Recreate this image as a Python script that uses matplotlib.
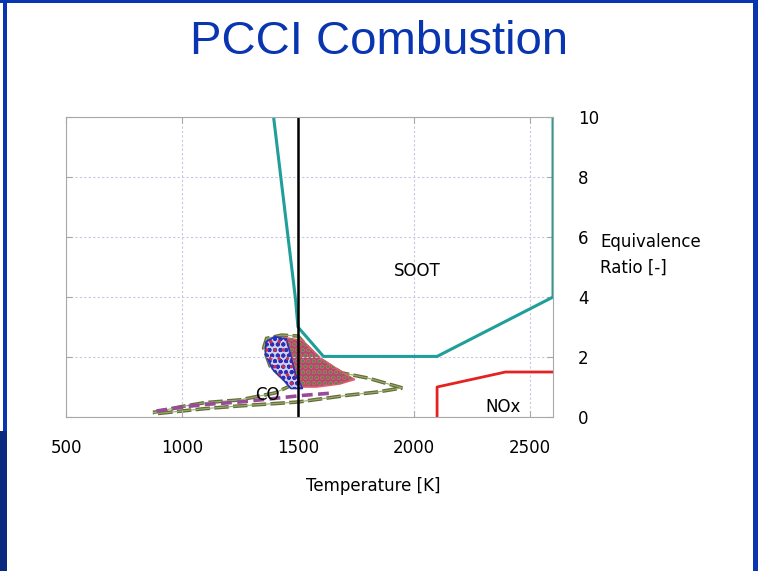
import matplotlib.pyplot as plt
from matplotlib.patches import Polygon, Rectangle

plt.rcParams['font.family'] = ['DejaVu Sans']
plt.rcParams['hatch.linewidth'] = 1.3

# temperature [K] / equivalence ratio [-]
soot_T = [1395, 1490, 1500, 1610, 2100, 2600, 2600]
soot_phi = [10, 3.9, 3.0, 2.02, 2.02, 4.0, 10]

nox_T = [2100, 2100, 2395, 2600]
nox_phi = [0, 1.0, 1.5, 1.5]

line_T = [1500, 1500]
line_phi = [0, 10]

# operating region (outline)
outer_T = [875, 1000, 1100, 1250, 1400, 1470, 1420, 1380, 1352, 1365, 1430, 1500,
           1580, 1690, 1800, 1950, 1840, 1720, 1500, 1250, 1100, 900]
outer_phi = [0.15, 0.35, 0.48, 0.57, 0.8, 1.05, 1.4, 1.7, 2.3, 2.62, 2.73, 2.7,
             2.0, 1.47, 1.3, 0.97, 0.83, 0.73, 0.5, 0.37, 0.28, 0.12]

red_T = [1440, 1520, 1600, 1700, 1745, 1680, 1580, 1510, 1470, 1440]
red_phi = [2.65, 2.55, 1.95, 1.45, 1.25, 1.1, 1.0, 1.0, 1.6, 2.3]

blue_T = [1362, 1400, 1450, 1470, 1490, 1520, 1470, 1430, 1390, 1360]
blue_phi = [2.5, 2.68, 2.6, 2.0, 1.4, 0.95, 0.95, 1.3, 1.6, 2.1]

tail_T = [890, 1000, 1100, 1250, 1400, 1520, 1650]
tail_phi = [0.2, 0.33, 0.42, 0.5, 0.62, 0.72, 0.8]

fig = plt.figure(figsize=(7.58, 5.71), dpi=100)
ax = fig.add_axes([0.0871, 0.2697, 0.6425, 0.5253])

ax.set_xlim(500, 2600)
ax.set_ylim(0, 10)
ax.set_xticks([500, 1000, 1500, 2000, 2500])
ax.set_yticks([0, 2, 4, 6, 8, 10])
ax.grid(True, color='#c8c8e0', linestyle=(0, (2, 2)), linewidth=0.8)
for s in ax.spines.values():
    s.set_color('#a8a8a8')
ax.tick_params(direction='in', length=4, color='#a8a8a8', labelsize=12,
               left=True, right=True, top=True, bottom=True,
               labelleft=False, labelright=True)
ax.tick_params(axis='x', pad=16)
ax.tick_params(axis='y', pad=18)

# blob
ax.add_patch(Polygon(list(zip(outer_T, outer_phi)), closed=True, fill=False,
                     edgecolor='#6b6b3a', lw=2.6, ls=(0, (4, 1.2))))
ax.add_patch(Polygon(list(zip(outer_T, outer_phi)), closed=True, fill=False,
                     edgecolor='#8fb070', lw=0.8))
ax.add_patch(Polygon(list(zip(red_T, red_phi)), closed=True,
                     facecolor='#b04870', hatch='ooo', edgecolor='#e06070', lw=1.2))
ax.add_patch(Polygon(list(zip(red_T, red_phi)), closed=True, fill=False,
                     hatch='...', edgecolor='#4e8a4a', lw=0))
ax.add_patch(Polygon(list(zip(blue_T, blue_phi)), closed=True,
                     facecolor='#d0d0f0', hatch='ooo', edgecolor='#2a30b8', lw=1.2))
ax.add_patch(Polygon(list(zip(blue_T, blue_phi)), closed=True, fill=False,
                     hatch='..', edgecolor='#c83050', lw=0))
ax.plot(tail_T, tail_phi, color='#9a4a9a', lw=2.6, ls=(0, (3, 1.5)))

ax.plot(soot_T, soot_phi, color='#1f9e9a', lw=2.2)
ax.plot(nox_T, nox_phi, color='#e52222', lw=2.0)
ax.plot(line_T, line_phi, color='black', lw=1.8)

ax.text(2013, 4.87, 'SOOT', fontsize=12, ha='center', va='center')
ax.text(2384, 0.33, 'NOx', fontsize=12, ha='center', va='center')
ax.text(1370, 0.73, 'CO', fontsize=12, ha='center', va='center')

ax.set_xlabel('Temperature [K]', fontsize=12, labelpad=14)
ax.xaxis.set_label_coords(0.63, -0.2)
fig.text(600 / 758, 1 - 255 / 571, 'Equivalence\nRatio [-]', fontsize=12,
         ha='left', va='center', linespacing=1.6)

fig.text(379 / 758, 1 - 42 / 571, 'PCCI Combustion', fontsize=34,
         family='Liberation Sans', color='#0a35b0', ha='center', va='center')

# slide border
blue = '#0a35b0'
fig.add_artist(Rectangle((3 / 758, 0), 4 / 758, 1, transform=fig.transFigure,
                         color=blue, lw=0))
fig.add_artist(Rectangle((0, 0), 7 / 758, 140 / 571, transform=fig.transFigure,
                         color='#0a2a80', lw=0))
fig.add_artist(Rectangle((753 / 758, 0), 5 / 758, 1, transform=fig.transFigure,
                         color=blue, lw=0))
fig.add_artist(Rectangle((0, 1 - 3 / 571), 1, 3 / 571, transform=fig.transFigure,
                         color=blue, lw=0))

fig.savefig('out.png', dpi=100)
